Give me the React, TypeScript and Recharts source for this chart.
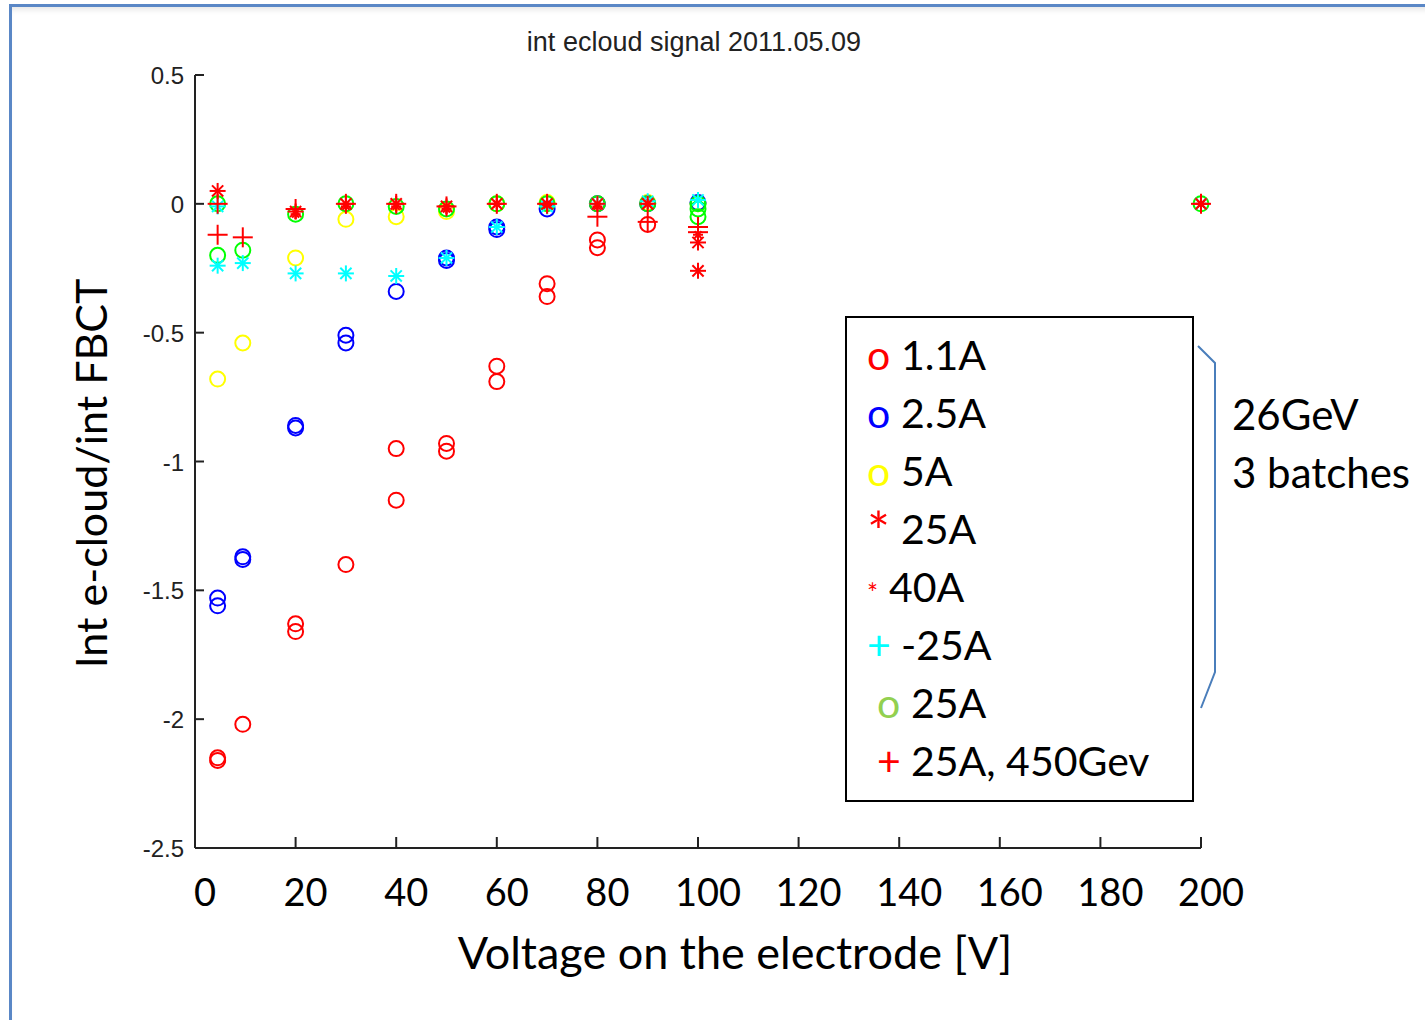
import { ScatterChart, Scatter, XAxis, YAxis, Legend } from 'recharts';

// voltage ticks / signal ticks
const xTicks = [0, 20, 40, 60, 80, 100, 120, 140, 160, 180, 200];
const yTicks = [-2.5, -2, -1.5, -1, -0.5, 0, 0.5];

// [voltage, int e-cloud / int FBCT]
const s1_1A = [
  [4.5, -2.15], [4.5, -2.16], [9.5, -2.02], [20, -1.63], [20, -1.66], [30, -1.4],
  [40, -0.95], [40, -1.15], [50, -0.93], [50, -0.96], [60, -0.63], [60, -0.69],
  [70, -0.31], [70, -0.36], [80, -0.14], [80, -0.17], [90, -0.08],
];
const s2_5A = [
  [4.5, -1.53], [4.5, -1.56], [9.5, -1.37], [9.5, -1.38], [20, -0.86], [20, -0.87],
  [30, -0.51], [30, -0.54], [40, -0.34], [50, -0.21], [50, -0.22], [60, -0.09],
  [60, -0.1], [70, -0.02], [80, 0], [90, 0], [100, 0.005],
];
const s5A = [
  [4.5, -0.68], [9.5, -0.54], [20, -0.21], [30, -0.06], [40, -0.05], [50, -0.03],
  [60, 0], [70, 0.005], [80, 0], [90, 0.005], [100, 0],
];
const s25A_star = [
  [4.5, 0.05], [20, -0.03], [30, 0], [40, 0], [50, -0.01], [60, 0], [70, 0],
  [80, 0], [90, 0], [100, -0.15], [100, -0.26], [200, 0],
];
const s40A = [
  [20, -0.04], [30, -0.01], [40, -0.01], [50, -0.02], [60, 0], [70, -0.005],
  [80, -0.01], [90, 0], [100, -0.12], [200, 0],
];
const sMinus25A = [
  [4.5, -0.01], [4.5, -0.24], [9.5, -0.23], [20, -0.27], [30, -0.27], [40, -0.28],
  [50, -0.21], [60, -0.09], [70, -0.01], [80, 0], [90, 0.01], [100, 0.015], [200, 0],
];
const s25A_circle = [
  [4.5, 0], [4.5, -0.2], [9.5, -0.18], [20, -0.04], [30, 0], [40, -0.01], [50, -0.02],
  [60, 0], [70, 0], [80, 0], [90, 0], [100, 0], [100, -0.02], [100, -0.05], [200, 0],
];
const s25A_450 = [
  [4.5, 0], [4.5, -0.12], [9.5, -0.13], [20, -0.02], [30, 0], [40, 0], [50, -0.01],
  [60, 0], [70, 0], [80, -0.05], [90, -0.07], [100, -0.09], [100, -0.11], [200, 0],
];

const toPts = (arr: number[][]) => arr.map(([x, y]) => ({ x, y }));

const legendRows = [
  { mark: 'o', color: '#ff0000', label: '1.1A', size: 41, indent: 0 },
  { mark: 'o', color: '#0000ff', label: '2.5A', size: 41, indent: 0 },
  { mark: 'o', color: '#ffff00', label: '5A', size: 41, indent: 0 },
  { mark: '*', color: '#ff0000', label: '25A', size: 54, indent: 0 },
  { mark: '*', color: '#ff0000', label: '40A', size: 26, indent: 0 },
  { mark: '+', color: '#00ffff', label: '-25A', size: 41, indent: 0 },
  { mark: 'o', color: '#92d050', label: '25A', size: 41, indent: 10 },
  { mark: '+', color: '#ff0000', label: '25A, 450Gev', size: 41, indent: 10 },
];

const circle = (color: string) => (p: any) =>
  <circle cx={p.cx} cy={p.cy} r={7.5} fill="none" stroke={color} strokeWidth={2} />;

const plus = (color: string, h: number) => (p: any) => (
  <g stroke={color} strokeWidth={2}>
    <line x1={p.cx - h} y1={p.cy} x2={p.cx + h} y2={p.cy} />
    <line x1={p.cx} y1={p.cy - h} x2={p.cx} y2={p.cy + h} />
  </g>
);

const star = (color: string, h: number) => (p: any) => {
  const d = h * 0.7;
  return (
    <g stroke={color} strokeWidth={2}>
      <line x1={p.cx - h} y1={p.cy} x2={p.cx + h} y2={p.cy} />
      <line x1={p.cx} y1={p.cy - h} x2={p.cx} y2={p.cy + h} />
      <line x1={p.cx - d} y1={p.cy - d} x2={p.cx + d} y2={p.cy + d} />
      <line x1={p.cx - d} y1={p.cy + d} x2={p.cx + d} y2={p.cy - d} />
    </g>
  );
};

const XTick = (p: any) => (
  <g>
    {p.payload.value !== 0 && <line x1={p.x} y1={p.y} x2={p.x} y2={p.y - 11} stroke="#222" strokeWidth={2} />}
    <text x={p.x + 10} y={p.y + 58} textAnchor="middle" fontFamily="Lato, sans-serif" fontSize={38} fill="#000">
      {p.payload.value}
    </text>
  </g>
);

const YTick = (p: any) => (
  <g>
    {p.payload.value !== -2.5 && <line x1={p.x} y1={p.y} x2={p.x + 9} y2={p.y} stroke="#222" strokeWidth={2} />}
    <text x={p.x - 11} y={p.y + 9} textAnchor="end" fontFamily="'Liberation Sans', Arial, sans-serif" fontSize={24} fill="#222">
      {p.payload.value}
    </text>
  </g>
);

const LegendBox = () => (
  <div style={{ width: 345, height: 482, border: '2px solid #000', background: '#fff', boxSizing: 'content-box', fontFamily: 'Lato, sans-serif' }}>
    {legendRows.map((r, i) => (
      <div key={i} style={{ height: 58, lineHeight: '58px', fontSize: 41, color: '#000', paddingLeft: 20 + r.indent, whiteSpace: 'nowrap', marginTop: i === 0 ? 8 : 0 }}>
        <span style={{ color: r.color, fontSize: r.size, display: 'inline-block', width: r.mark === '*' ? (r.size > 40 ? 34 : 22) : 34, lineHeight: '58px', verticalAlign: 'top', position: 'relative', top: r.mark === '*' ? (r.size > 40 ? 2 : 6) : 0 }}>{r.mark}</span>
        {r.label}
      </div>
    ))}
  </div>
);

export default function App() {
  return (
    <div style={{ position: 'absolute', left: 0, top: 0, width: 1425, height: 1020, background: '#fff', overflow: 'hidden' }}>
      <div style={{ position: 'absolute', left: 9, top: 4, right: -10, bottom: -10, borderTop: '3px solid #5a87c6', borderLeft: '3px solid #5a87c6', boxShadow: 'inset 0 6px 6px -4px rgba(0,0,0,0.12)' }} />
      <div style={{ position: 'absolute', left: 0, width: 1388, top: 27, textAlign: 'center', fontFamily: "'Liberation Sans', Arial, sans-serif", fontSize: 27, color: '#222' }}>
        int ecloud signal 2011.05.09
      </div>
      <ScatterChart width={1425} height={1020} margin={{ top: 75, right: 224, bottom: 112, left: 135 }}>
        <XAxis
          type="number"
          dataKey="x"
          domain={[0, 200]}
          ticks={xTicks}
          tickSize={0}
          tickMargin={0}
          tick={<XTick />}
          height={60}
          stroke="#222"
          strokeWidth={2}
          label={{ value: 'Voltage on the electrode [V]', position: 'insideBottom', offset: -61, fontFamily: 'Lato, sans-serif', fontSize: 45, fill: '#000', dx: 37 }}
        />
        <YAxis
          type="number"
          dataKey="y"
          domain={[-2.5, 0.5]}
          ticks={yTicks}
          tickSize={0}
          tickMargin={0}
          tick={<YTick />}
          width={60}
          stroke="#222"
          strokeWidth={2}
          label={{ value: 'Int e-cloud/int FBCT', angle: -90, position: 'center', dx: -73, dy: 12, fontFamily: 'Lato, sans-serif', fontSize: 43, fill: '#000' }}
        />
        <Legend layout="vertical" align="center" verticalAlign="middle" content={<LegendBox />}
          wrapperStyle={{ left: 845, top: 316, width: 352 }} />
        <Scatter name="5A" data={toPts(s5A)} shape={circle('#ffff00')} isAnimationActive={false} />
        <Scatter name="2.5A" data={toPts(s2_5A)} shape={circle('#0000ff')} isAnimationActive={false} />
        <Scatter name="1.1A" data={toPts(s1_1A)} shape={circle('#ff0000')} isAnimationActive={false} />
        <Scatter name="25A" data={toPts(s25A_circle)} shape={circle('#00ff00')} isAnimationActive={false} />
        <Scatter name="-25A" data={toPts(sMinus25A)} shape={star('#00ffff', 8)} isAnimationActive={false} />
        <Scatter name="25A star" data={toPts(s25A_star)} shape={star('#ff0000', 8)} isAnimationActive={false} />
        <Scatter name="40A" data={toPts(s40A)} shape={star('#ff0000', 5)} isAnimationActive={false} />
        <Scatter name="25A, 450Gev" data={toPts(s25A_450)} shape={plus('#ff0000', 10)} isAnimationActive={false} />
      </ScatterChart>
      <svg style={{ position: 'absolute', left: 0, top: 0 }} width={1425} height={1020} pointerEvents="none">
        <polyline points="1198,346 1215,363 1215,672 1201,708" fill="none" stroke="#4a7ebb" strokeWidth={2} />
      </svg>
      <div style={{ position: 'absolute', left: 1232, top: 385, fontFamily: 'Lato, sans-serif', fontSize: 42, lineHeight: '58px', color: '#000', whiteSpace: 'nowrap' }}>
        26GeV<br />3 batches
      </div>
    </div>
  );
}
